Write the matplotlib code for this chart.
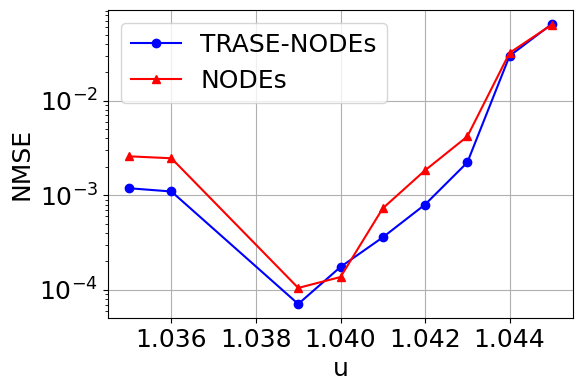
import matplotlib
matplotlib.use("Agg")
import matplotlib.pyplot as plt

u = [1.035, 1.036, 1.039, 1.040, 1.041, 1.042, 1.043, 1.044, 1.045]
trase_nodes = [1.19e-3, 1.10e-3, 7.1e-5, 1.75e-4, 3.6e-4, 8.0e-4, 2.23e-3, 0.0299, 0.065]
nodes = [2.59e-3, 2.47e-3, 1.05e-4, 1.37e-4, 7.3e-4, 1.84e-3, 4.2e-3, 0.0322, 0.064]

fig = plt.figure(figsize=(5.83, 3.91), dpi=100)
ax = fig.add_axes([108/583, 1-318/391, (573-108)/583, (318-10)/391])
ax.plot(u, trase_nodes, 'b-o', label='TRASE-NODEs')
ax.plot(u, nodes, 'r-^', label='NODEs')
ax.set_yscale('log')
ax.set_xlabel('u', fontsize=18)
ax.set_ylabel('NMSE', fontsize=18)
ax.tick_params(labelsize=18)
ax.grid(True)
ax.legend(fontsize=18, loc='upper left')
fig.savefig('out.png', dpi=100)
